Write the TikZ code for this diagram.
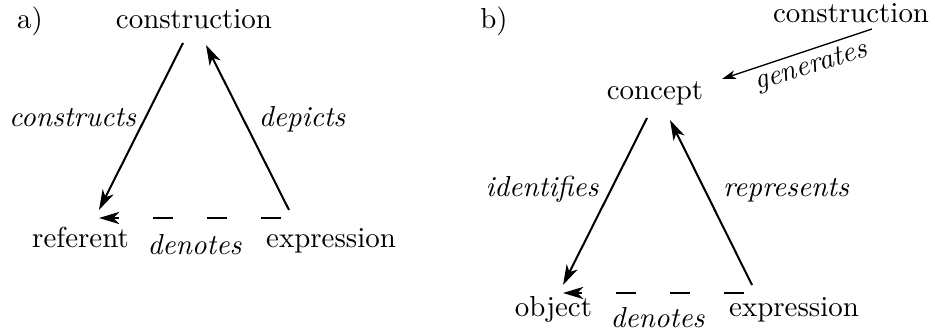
\documentclass[tikz,border=0pt]{standalone}
\usetikzlibrary{arrows.meta}
\begin{document}
\begin{tikzpicture}[x=0.346pt,y=-0.346pt,
  lbl/.style={inner sep=0pt,anchor=base},
  itl/.style={inner sep=0pt,anchor=base,font=\itshape},
  conn/.style={line width=0.7pt,-{Stealth[length=7pt,width=4.2pt,inset=2pt]}},
  dconn/.style={conn,dash pattern=on 6.9pt off 11.8pt},
  thin conn/.style={line width=0.45pt,-{Stealth[length=4.8pt,width=3pt,inset=1.4pt]}}]
\useasboundingbox (0,0) rectangle (935,335);
% panel a
\node[lbl] (la) at (30,29) {a)};
\node[lbl] (constrA) at (194,29) {construction};
\node[lbl] (referent) at (80.5,248) {referent};
\node[lbl] (exprA) at (331,248) {expression};
\node[itl] (denA) at (194.5,255) {denotes};
\node[itl] (constructs) at (72.5,127) {constructs};
\node[itl] (depicts) at (302,127) {depicts};
\coordinate (a1) at (183,43);
\coordinate (a2) at (99,210);
\coordinate (a3) at (289,210);
\coordinate (a4) at (206,45);
\coordinate (a5) at (281,218);
\coordinate (a6) at (99,218);
\draw[conn] (a1) -- (a2);
\draw[conn] (a3) -- (a4);
\draw[dconn] (a5) -- (a6);
% panel b
\node[lbl] (lb) at (494,29) {b)};
\node[lbl] (constrB) at (851,23) {construction};
\node[lbl] (concept) at (655,100) {concept};
\node[lbl] (object) at (553.5,317) {object};
\node[lbl] (exprB) at (794,317) {expression};
\node[itl] (denB) at (657.5,328) {denotes};
\node[itl] (identifies) at (542,197) {identifies};
\node[itl] (represents) at (786,197) {represents};
\node[itl,rotate=17] (generates) at (813,73) {generates};
\coordinate (b1) at (647,118);
\coordinate (b2) at (563,285);
\coordinate (b3) at (752,285);
\coordinate (b4) at (670,120);
\coordinate (b5) at (744,293);
\coordinate (b6) at (563,293);
\coordinate (b7) at (872,29);
\coordinate (b8) at (722,79);
\draw[conn] (b1) -- (b2);
\draw[conn] (b3) -- (b4);
\draw[dconn] (b5) -- (b6);
\draw[thin conn] (b7) -- (b8);
\end{tikzpicture}
\end{document}
